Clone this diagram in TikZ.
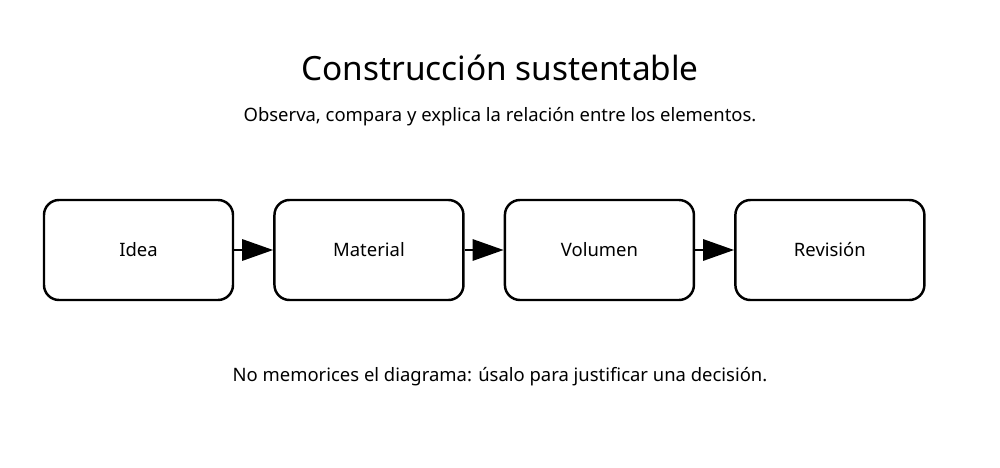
\documentclass[tikz,border=0pt]{standalone}
\usepackage{fontspec}
\setmainfont{Noto Sans}
\usetikzlibrary{positioning,arrows.meta}
\tikzset{
  stage/.style={draw, line width=1.4pt, rounded corners=0.3cm, minimum width=3.78cm, minimum height=2cm, font=\fontsize{10.5}{12}\selectfont},
  flow/.style={line width=1.7pt, -{Triangle[length=0.62cm,width=0.42cm]}}
}
\begin{document}
\begin{tikzpicture}
\useasboundingbox (0,0) rectangle (20,9.34);
\node[font=\bfseries\fontsize{19}{22}\selectfont] (title) at (10,7.98) {Construcción sustentable};
\node[font=\fontsize{10.5}{12}\selectfont] (sub) at (10,7.0) {Observa, compara y explica la relación entre los elementos.};
\node[stage] (idea) at (2.77,4.34) {Idea};
\node[stage, right=0.78cm of idea] (mat) {Material};
\node[stage, right=0.78cm of mat] (vol) {Volumen};
\node[stage, right=0.78cm of vol] (rev) {Revisión};
\foreach \a/\b in {idea/mat,mat/vol,vol/rev}
  \draw[flow] (\a) -- (\b);
\node[font=\fontsize{10.5}{12}\selectfont] (note) at (10,1.8) {No memorices el diagrama: úsalo para justificar una decisión.};
\end{tikzpicture}
\end{document}
